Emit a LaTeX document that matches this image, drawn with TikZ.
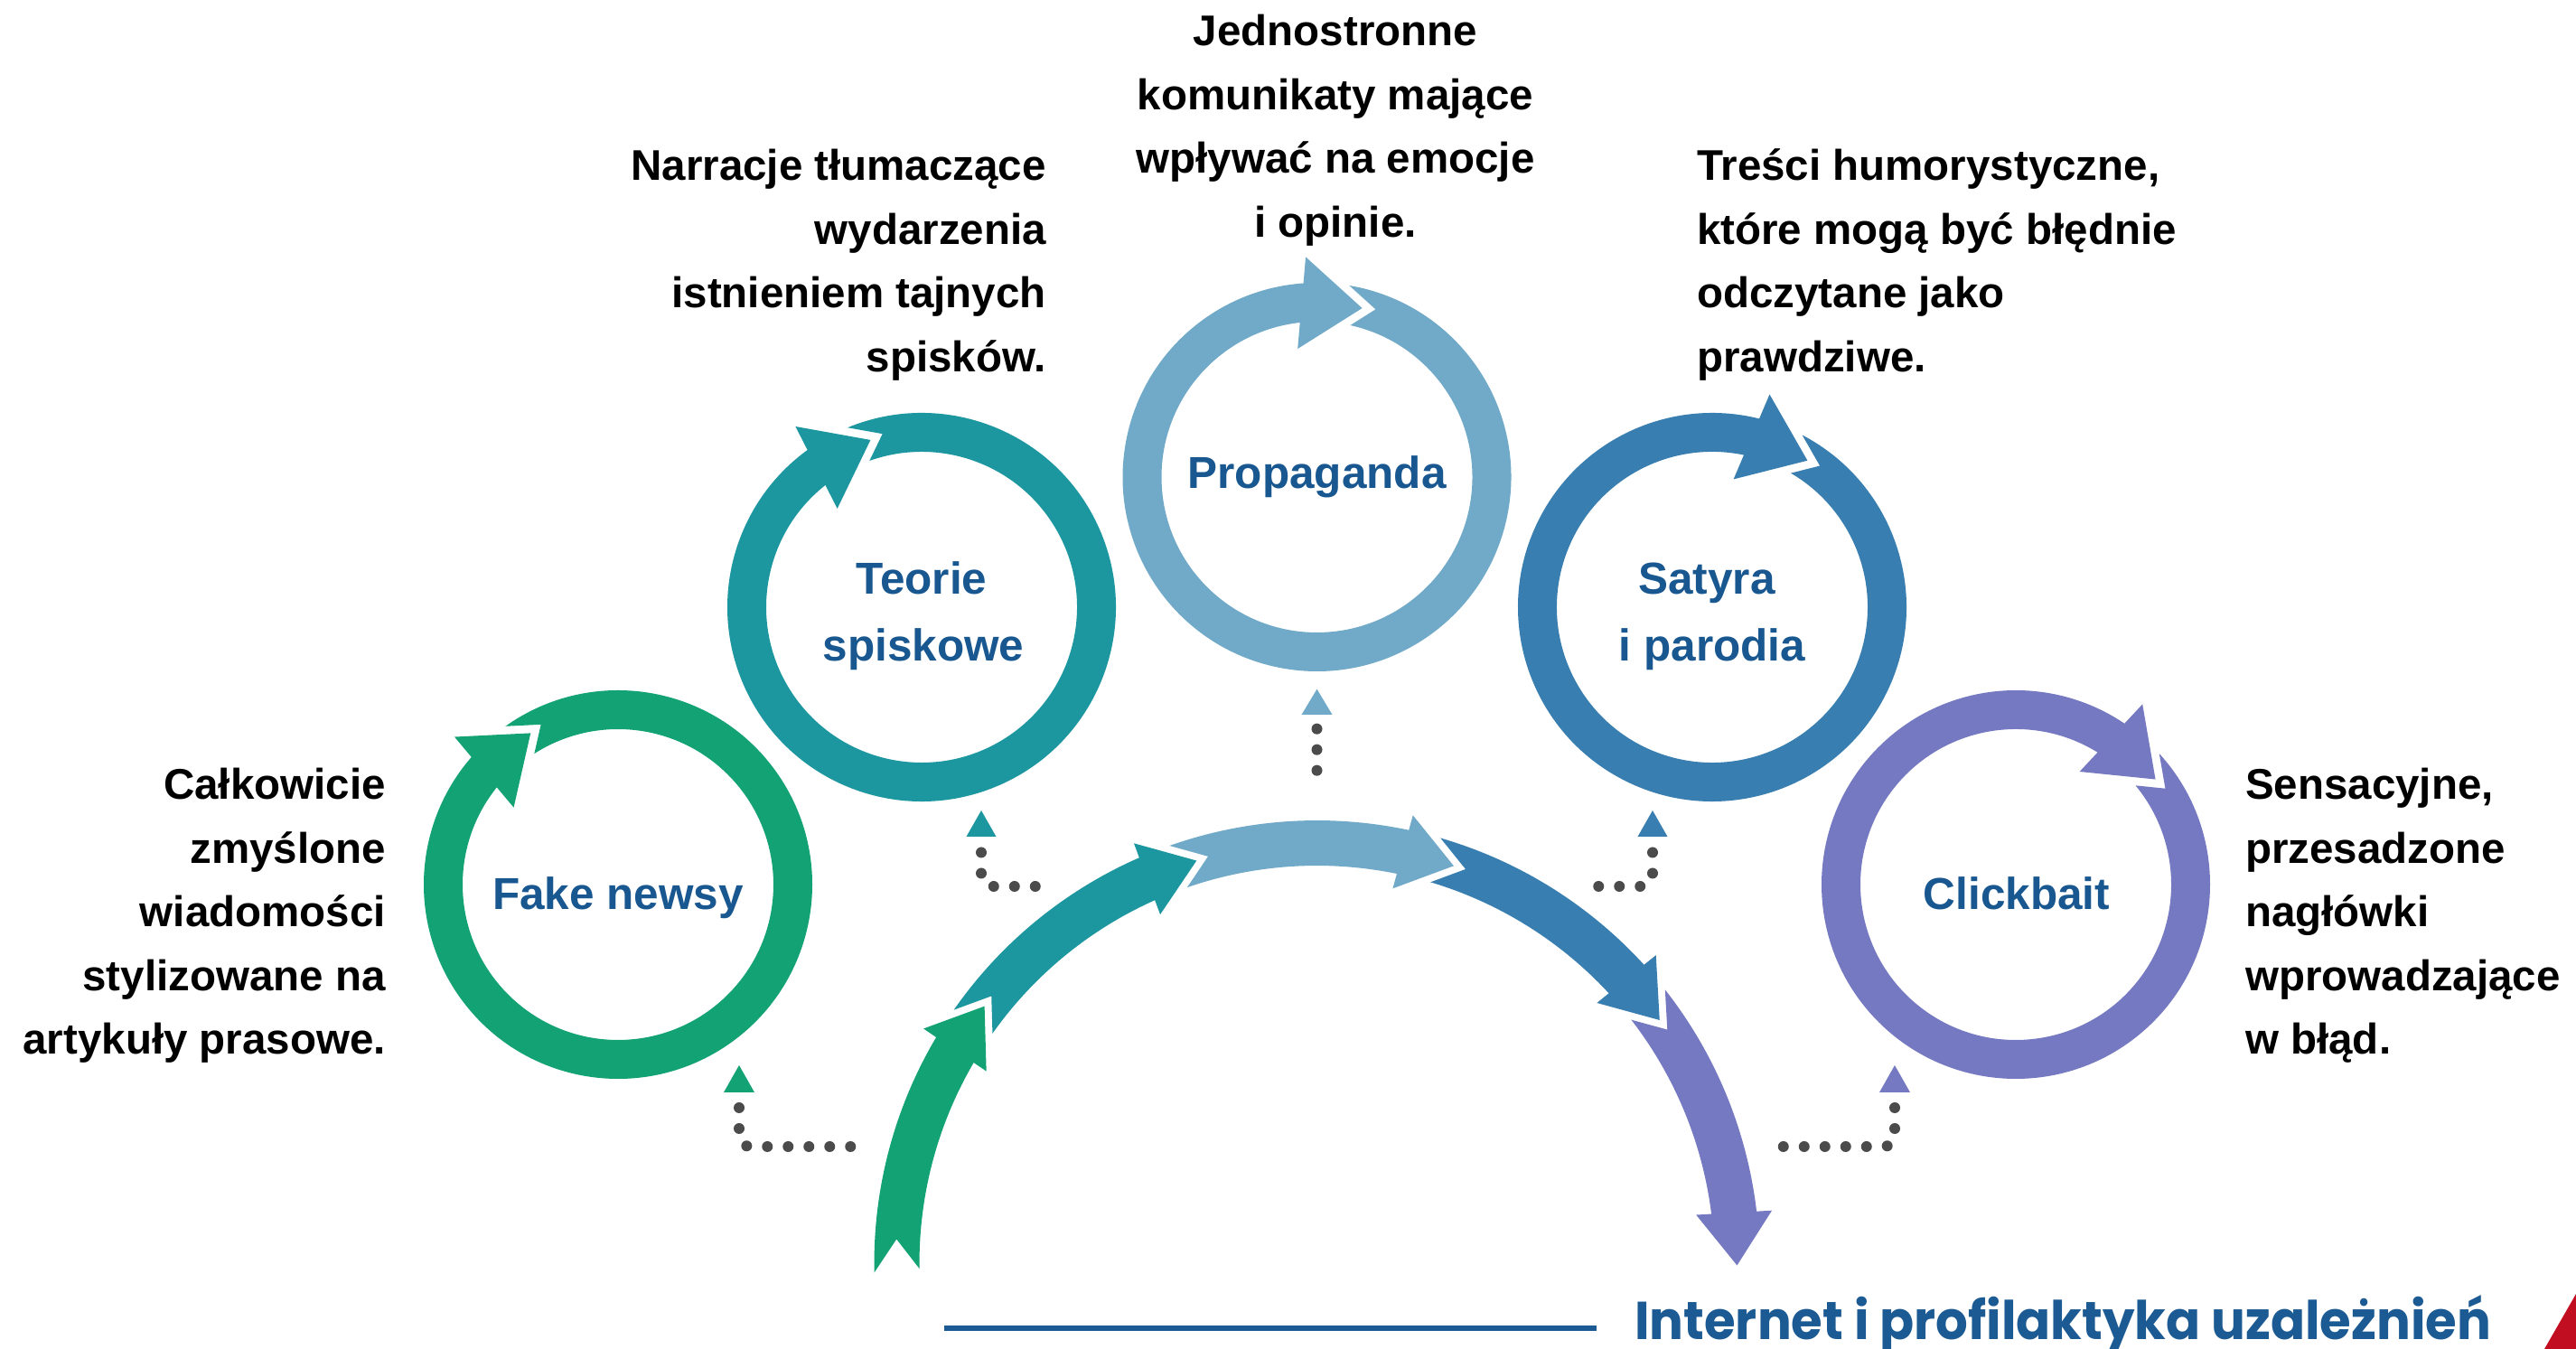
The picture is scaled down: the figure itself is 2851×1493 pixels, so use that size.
\documentclass[tikz,border=0pt]{standalone}
\usepackage{fontspec}
\setmainfont{Liberation Sans}
\newfontfamily\footfont{Poppins}
\usepackage{graphicx}
\definecolor{cgreen}{HTML}{12A273}
\definecolor{cteal}{HTML}{1C97A0}
\definecolor{clight}{HTML}{71AAC8}
\definecolor{cblue}{HTML}{387EB0}
\definecolor{cpurple}{HTML}{7479C1}
\definecolor{labelblue}{HTML}{18578F}
\definecolor{dotgrey}{HTML}{4B4B4B}
\definecolor{footblue}{HTML}{1B5A92}
\definecolor{cred}{HTML}{C10E21}
\tikzset{
  desc/.style={font=\bfseries\fontsize{47.5pt}{57pt}\selectfont, text=black, inner sep=0pt},
  lbl/.style={font=\bfseries\fontsize{49.5pt}{60pt}\selectfont, text=labelblue, inner sep=0pt},
  dotline/.style={draw=dotgrey, line width=12pt, line cap=round, dash pattern=on 0pt off 23pt, rounded corners=12pt},
}
% ring arrow: centre x, centre y, tip angle, colour
\newcommand\ringarrow[4]{%
  \begin{scope}[shift={(#1,#2)},rotate=#3]
    \fill[#4] (5.41:215pt) arc[start angle=5.41,end angle=-343,radius=215pt]
      -- (-343:172pt) arc[start angle=-343,end angle=2.60,radius=172pt]
      -- (196.09pt,-14.67pt) -- cycle;
    \fill[#4] (193.5pt,0pt) -- (232.06pt,75.04pt) -- (131.61pt,57.32pt) -- cycle;
  \end{scope}}
% arc segment: tail angle, tip angle, colour
\newcommand\segarrow[3]{%
  \pgfmathsetmacro\segE{#2-#1+6}%
  \begin{scope}[shift={(1457.5,95)},rotate=#1]
    \fill[#3] (2.80:490pt) arc[start angle=2.80,end angle=\segE,radius=490pt]
      -- (\segE:440pt) arc[start angle=\segE,end angle=2.40,radius=440pt]
      -- (465.85pt,-13.57pt) -- cycle;
  \end{scope}
  \begin{scope}[shift={(1457.5,95)},rotate=#2]
    \fill[#3] (465pt,0pt) -- (503.25pt,60.92pt) -- (419.41pt,55.64pt) -- cycle;
  \end{scope}}
\begin{document}
\begin{tikzpicture}[x=1pt,y=1pt]
\useasboundingbox (0,0) rectangle (2851,1493);
\fill[white] (0,0) rectangle (2851,1493);

% rings
\ringarrow{684}{514}{120}{cgreen}
\ringarrow{1020}{821}{107}{cteal}
\ringarrow{1457.5}{965}{75}{clight}
\ringarrow{1895}{821}{57}{cblue}
\ringarrow{2231}{514}{37}{cpurple}

% big arc
\segarrow{178.4}{142.3}{cgreen}
\segarrow{142.3}{106.65}{cteal}
\segarrow{106.65}{71.0}{clight}
\segarrow{71.0}{35.35}{cblue}
\segarrow{35.35}{-0.3}{cpurple}

% ring labels
\node[lbl,anchor=base] (lfake) at (684,486) {Fake newsy};
\node[lbl,anchor=base] (lteo1) at (1020,835) {Teorie};
\node[lbl,anchor=base] (lteo2) at (1022,761) {spiskowe};
\node[lbl,anchor=base] (lprop) at (1457.5,952) {Propaganda};
\node[lbl,anchor=base] (lsat1) at (1889,835) {Satyra};
\node[lbl,anchor=base] (lsat2) at (1895,761) {i parodia};
\node[lbl,anchor=base] (lclick) at (2232,486) {Clickbait};

% descriptions
\node[desc,anchor=base east] (f1) at (427,608) {Całkowicie};
\node[desc,anchor=base east] (f2) at (427,537.6) {zmyślone};
\node[desc,anchor=base east] (f3) at (427,467.2) {wiadomości};
\node[desc,anchor=base east] (f4) at (427,396.8) {stylizowane na};
\node[desc,anchor=base east] (f5) at (427,326.4) {artykuły prasowe.};

\node[desc,anchor=base east] (t1) at (1158,1293) {Narracje tłumaczące};
\node[desc,anchor=base east] (t2) at (1158,1222.6) {wydarzenia};
\node[desc,anchor=base east] (t3) at (1158,1152.2) {istnieniem tajnych};
\node[desc,anchor=base east] (t4) at (1158,1081.8) {spisków.};

\node[desc,anchor=base] (p1) at (1478,1442) {Jednostronne};
\node[desc,anchor=base] (p2) at (1478,1371.6) {komunikaty mające};
\node[desc,anchor=base] (p3) at (1478,1301.2) {wpływać na emocje};
\node[desc,anchor=base] (p4) at (1478,1230.8) {i opinie.};

\node[desc,anchor=base west] (s1) at (1878,1293) {Treści humorystyczne,};
\node[desc,anchor=base west] (s2) at (1878,1222.6) {które mogą być błędnie};
\node[desc,anchor=base west] (s3) at (1878,1152.2) {odczytane jako};
\node[desc,anchor=base west] (s4) at (1878,1081.8) {prawdziwe.};

\node[desc,anchor=base west] (c1) at (2485,608) {Sensacyjne,};
\node[desc,anchor=base west] (c2) at (2485,537.6) {przesadzone};
\node[desc,anchor=base west] (c3) at (2485,467.2) {nagłówki};
\node[desc,anchor=base west] (c4) at (2485,396.8) {wprowadzające};
\node[desc,anchor=base west] (c5) at (2485,326.4) {w błąd.};

% dotted connectors with triangles
\coordinate (fa) at (818,267);   \coordinate (fb) at (818,224);  \coordinate (fc) at (955,224);
\coordinate (ta) at (1086,549.5);\coordinate (tb) at (1086,512); \coordinate (tc) at (1155,512);
\coordinate (pa) at (1457.5,686.3); \coordinate (pc) at (1457.5,618.3);
\coordinate (sa) at (1829,549.5);\coordinate (sb) at (1829,512); \coordinate (sc) at (1760,512);
\coordinate (ca) at (2097,267);  \coordinate (cb) at (2097,224); \coordinate (cc) at (1960,224);

\draw[dotline] (fa) -- (fb) -- (fc);
\draw[dotline] (ta) -- (tb) -- (tc);
\draw[dotline] (pa) -- (pc);
\draw[dotline] (sa) -- (sb) -- (sc);
\draw[dotline] (ca) -- (cb) -- (cc);

\fill[cgreen] (818,314) -- (801,284) -- (835,284) -- cycle;
\fill[cteal] (1086,596) -- (1069.5,567) -- (1102.5,567) -- cycle;
\fill[clight] (1457.5,730.3) -- (1440.5,702) -- (1474.5,702) -- cycle;
\fill[cblue] (1829,596) -- (1812.5,567) -- (1845.5,567) -- cycle;
\fill[cpurple] (2097,314) -- (2080,284) -- (2114,284) -- cycle;

% footer
\draw[footblue, line width=6pt] (1045,23) -- (1767,23);
\node[anchor=base west, inner sep=0pt, text=footblue] (footer) at (1809,10)
  {\resizebox{948pt}{\height}{\footfont\bfseries\fontsize{59pt}{62pt}\selectfont Internet i profilaktyka uzależnień}};
\fill[cred] (2816,0) -- (2851,61) -- (2851,0) -- cycle;
\end{tikzpicture}
\end{document}
